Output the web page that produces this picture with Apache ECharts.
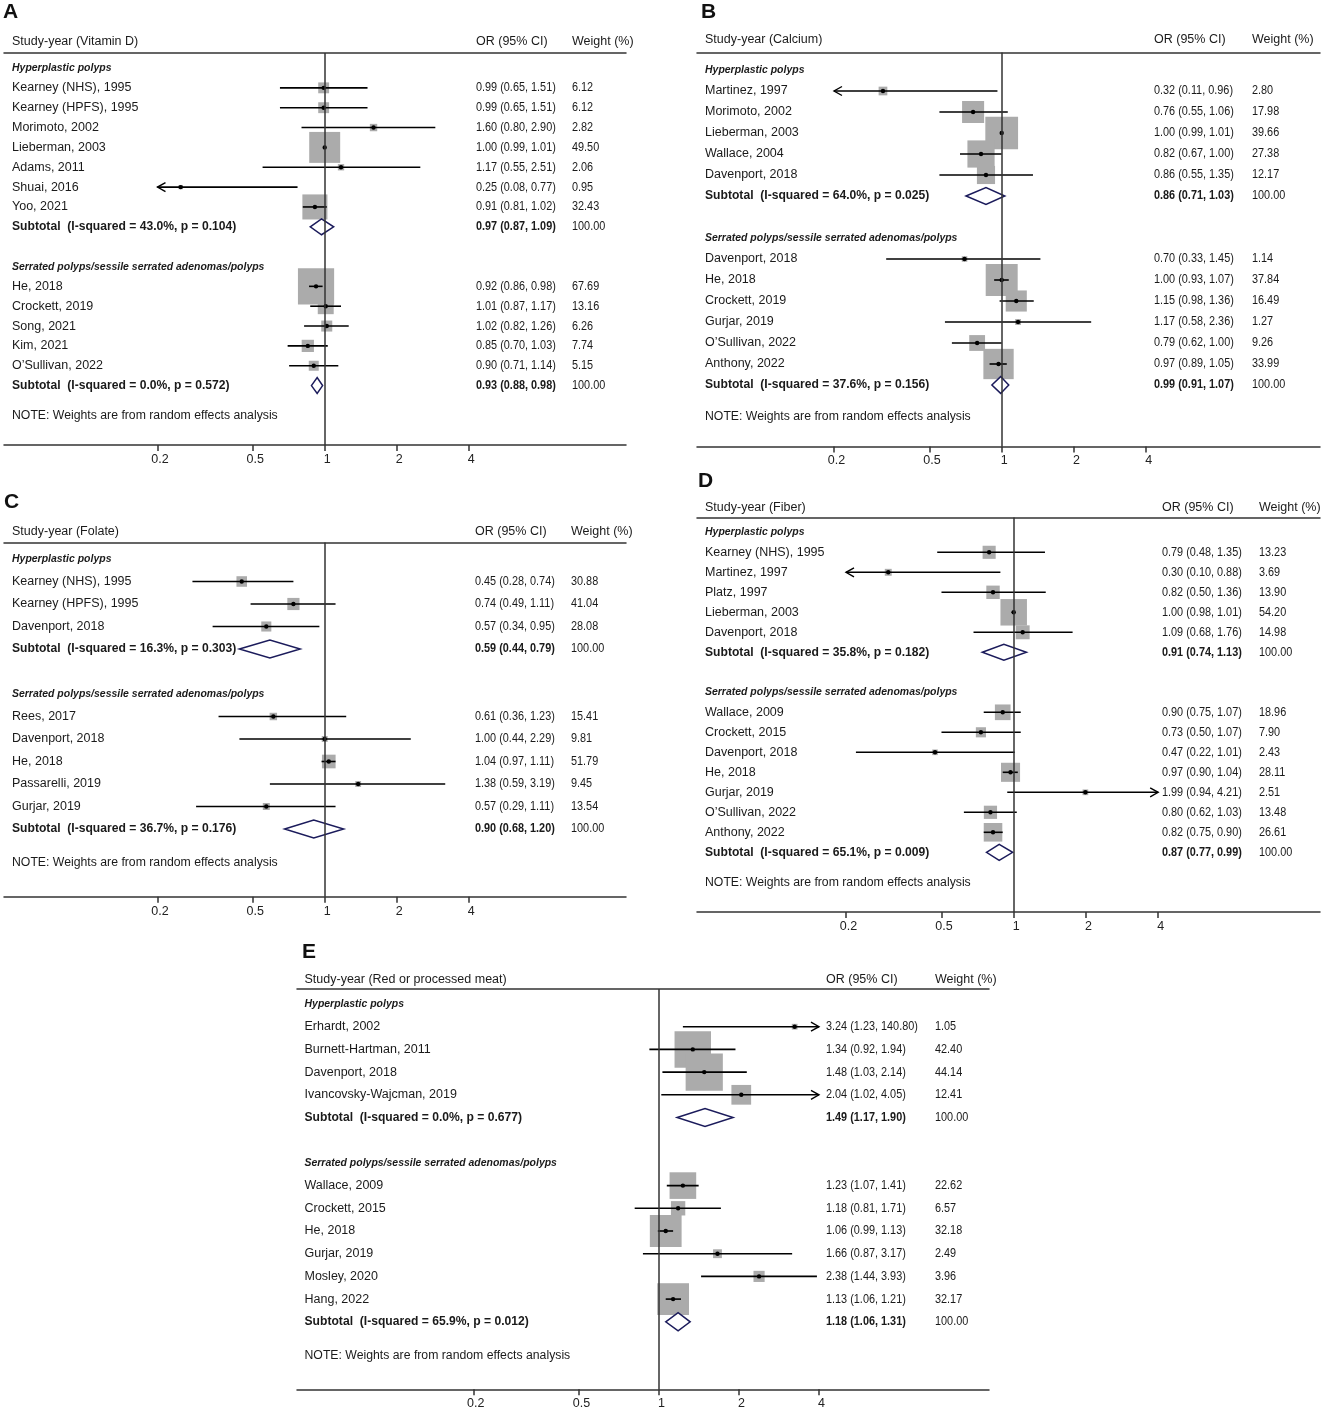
<!DOCTYPE html>
<html>
<head>
<meta charset="utf-8">
<script src="https://cdn.jsdelivr.net/npm/echarts@6/dist/echarts.min.js"></script>
<style>
  html, body { margin: 0; padding: 0; background: #fff; }
  #chart { width: 1325px; height: 1411px; }
</style>
</head>
<body>
<div id="chart"></div>
<script>
// rows: [study, OR, lower, upper, weight %]
// subtotals: [OR, lower, upper, I-squared %, p]
const vitDHyper = [
  ['Kearney (NHS), 1995', 0.99, 0.65, 1.51, 6.12],
  ['Kearney (HPFS), 1995', 0.99, 0.65, 1.51, 6.12],
  ['Morimoto, 2002', 1.60, 0.80, 2.90, 2.82],
  ['Lieberman, 2003', 1.00, 0.99, 1.01, 49.50],
  ['Adams, 2011', 1.17, 0.55, 2.51, 2.06],
  ['Shuai, 2016', 0.25, 0.08, 0.77, 0.95],
  ['Yoo, 2021', 0.91, 0.81, 1.02, 32.43]
];
const vitDHyperSub = [0.97, 0.87, 1.09, 43.0, 0.104];
const vitDSerr = [
  ['He, 2018', 0.92, 0.86, 0.98, 67.69],
  ['Crockett, 2019', 1.01, 0.87, 1.17, 13.16],
  ['Song, 2021', 1.02, 0.82, 1.26, 6.26],
  ['Kim, 2021', 0.85, 0.70, 1.03, 7.74],
  ['O’Sullivan, 2022', 0.90, 0.71, 1.14, 5.15]
];
const vitDSerrSub = [0.93, 0.88, 0.98, 0.0, 0.572];

const calcHyper = [
  ['Martinez, 1997', 0.32, 0.11, 0.96, 2.80],
  ['Morimoto, 2002', 0.76, 0.55, 1.06, 17.98],
  ['Lieberman, 2003', 1.00, 0.99, 1.01, 39.66],
  ['Wallace, 2004', 0.82, 0.67, 1.00, 27.38],
  ['Davenport, 2018', 0.86, 0.55, 1.35, 12.17]
];
const calcHyperSub = [0.86, 0.71, 1.03, 64.0, 0.025];
const calcSerr = [
  ['Davenport, 2018', 0.70, 0.33, 1.45, 1.14],
  ['He, 2018', 1.00, 0.93, 1.07, 37.84],
  ['Crockett, 2019', 1.15, 0.98, 1.36, 16.49],
  ['Gurjar, 2019', 1.17, 0.58, 2.36, 1.27],
  ['O’Sullivan, 2022', 0.79, 0.62, 1.00, 9.26],
  ['Anthony, 2022', 0.97, 0.89, 1.05, 33.99]
];
const calcSerrSub = [0.99, 0.91, 1.07, 37.6, 0.156];

const folHyper = [
  ['Kearney (NHS), 1995', 0.45, 0.28, 0.74, 30.88],
  ['Kearney (HPFS), 1995', 0.74, 0.49, 1.11, 41.04],
  ['Davenport, 2018', 0.57, 0.34, 0.95, 28.08]
];
const folHyperSub = [0.59, 0.44, 0.79, 16.3, 0.303];
const folSerr = [
  ['Rees, 2017', 0.61, 0.36, 1.23, 15.41],
  ['Davenport, 2018', 1.00, 0.44, 2.29, 9.81],
  ['He, 2018', 1.04, 0.97, 1.11, 51.79],
  ['Passarelli, 2019', 1.38, 0.59, 3.19, 9.45],
  ['Gurjar, 2019', 0.57, 0.29, 1.11, 13.54]
];
const folSerrSub = [0.90, 0.68, 1.20, 36.7, 0.176];

const fibHyper = [
  ['Kearney (NHS), 1995', 0.79, 0.48, 1.35, 13.23],
  ['Martinez, 1997', 0.30, 0.10, 0.88, 3.69],
  ['Platz, 1997', 0.82, 0.50, 1.36, 13.90],
  ['Lieberman, 2003', 1.00, 0.98, 1.01, 54.20],
  ['Davenport, 2018', 1.09, 0.68, 1.76, 14.98]
];
const fibHyperSub = [0.91, 0.74, 1.13, 35.8, 0.182];
const fibSerr = [
  ['Wallace, 2009', 0.90, 0.75, 1.07, 18.96],
  ['Crockett, 2015', 0.73, 0.50, 1.07, 7.90],
  ['Davenport, 2018', 0.47, 0.22, 1.01, 2.43],
  ['He, 2018', 0.97, 0.90, 1.04, 28.11],
  ['Gurjar, 2019', 1.99, 0.94, 4.21, 2.51],
  ['O’Sullivan, 2022', 0.80, 0.62, 1.03, 13.48],
  ['Anthony, 2022', 0.82, 0.75, 0.90, 26.61]
];
const fibSerrSub = [0.87, 0.77, 0.99, 65.1, 0.009];

const meatHyper = [
  ['Erhardt, 2002', 3.24, 1.23, 140.80, 1.05],
  ['Burnett-Hartman, 2011', 1.34, 0.92, 1.94, 42.40],
  ['Davenport, 2018', 1.48, 1.03, 2.14, 44.14],
  ['Ivancovsky-Wajcman, 2019', 2.04, 1.02, 4.05, 12.41]
];
const meatHyperSub = [1.49, 1.17, 1.90, 0.0, 0.677];
const meatSerr = [
  ['Wallace, 2009', 1.23, 1.07, 1.41, 22.62],
  ['Crockett, 2015', 1.18, 0.81, 1.71, 6.57],
  ['He, 2018', 1.06, 0.99, 1.13, 32.18],
  ['Gurjar, 2019', 1.66, 0.87, 3.17, 2.49],
  ['Mosley, 2020', 2.38, 1.44, 3.93, 3.96],
  ['Hang, 2022', 1.13, 1.06, 1.21, 32.17]
];
const meatSerrSub = [1.18, 1.06, 1.31, 65.9, 0.012];

const tickLabels = [0.2, 0.5, 1, 2, 4];
const clipRange = [0.2, 4];

const FONT = '"Liberation Sans", Arial, Helvetica, sans-serif';
const ln = Math.log;
const lnTicks = tickLabels.map(ln);

const panels = [
  { key: 'A', exposure: 'Vitamin D', hyper: vitDHyper, hyperSub: vitDHyperSub, serr: vitDSerr, serrSub: vitDSerrSub,
    left: 4, right: 626, one: 324.7, k: 103.9, top: 53, axisY: 445, row0: 68, step: 19.85, headY: 41.7,
    nameX: 12, orX: 476, wX: 572, box: 4.4, letterX: 3, letterY: 2 },
  { key: 'B', exposure: 'Calcium', hyper: calcHyper, hyperSub: calcHyperSub, serr: calcSerr, serrSub: calcSerrSub,
    left: 697, right: 1320, one: 1001.7, k: 104.2, top: 52.5, axisY: 446.5, row0: 70, step: 21, headY: 39.5,
    nameX: 705, orX: 1154, wX: 1252, box: 5.2, letterX: 701, letterY: 2 },
  { key: 'C', exposure: 'Folate', hyper: folHyper, hyperSub: folHyperSub, serr: folSerr, serrSub: folSerrSub,
    left: 4, right: 626, one: 324.7, k: 103.9, top: 542.5, axisY: 896.7, row0: 559, step: 22.5, headY: 531.7,
    nameX: 12, orX: 475, wX: 571, box: 1.9, letterX: 4, letterY: 492 },
  { key: 'D', exposure: 'Fiber', hyper: fibHyper, hyperSub: fibHyperSub, serr: fibSerr, serrSub: fibSerrSub,
    left: 697, right: 1320, one: 1013.7, k: 104.2, top: 517.5, axisY: 912, row0: 532.3, step: 20, headY: 507.3,
    nameX: 705, orX: 1162, wX: 1259, box: 3.6, letterX: 698, letterY: 471 },
  { key: 'E', exposure: 'Red or processed meat', hyper: meatHyper, hyperSub: meatHyperSub, serr: meatSerr, serrSub: meatSerrSub,
    left: 297, right: 989, one: 659, k: 115.4, top: 989, axisY: 1389.3, row0: 1004, step: 22.7, headY: 979.3,
    nameX: 304.5, orX: 826, wX: 935, box: 5.6, letterX: 302, letterY: 942 }
];

function buildRows(p) {
  const rows = [];
  const n1 = p.hyper.length, n2 = p.serr.length;
  rows.push({ kind: 'head', row: (p.headY - p.row0) / p.step });
  rows.push({ kind: 'group', row: 0, text: 'Hyperplastic polyps' });
  p.hyper.forEach((d, i) => rows.push({ kind: 'study', row: i + 1, d: d }));
  rows.push({ kind: 'sub', row: n1 + 1, d: p.hyperSub });
  rows.push({ kind: 'group', row: n1 + 3, text: 'Serrated polyps/sessile serrated adenomas/polyps' });
  p.serr.forEach((d, i) => rows.push({ kind: 'study', row: n1 + 4 + i, d: d }));
  rows.push({ kind: 'sub', row: n1 + 4 + n2, d: p.serrSub });
  rows.push({ kind: 'note', row: n1 + 5.5 + n2 });
  return rows;
}

// text anchored at its left-middle point; sx squeezes it horizontally
function txt(text, x, y, opt) {
  opt = opt || {};
  return {
    type: 'text',
    x: x, y: y,
    scaleX: opt.sx || 1, scaleY: 1, originX: 0, originY: 0,
    style: {
      text: text, x: 0, y: 0,
      fill: '#1a1a1a',
      fontSize: opt.size || 12.5,
      fontWeight: opt.bold ? 'bold' : 'normal',
      fontStyle: opt.italic ? 'italic' : 'normal',
      fontFamily: FONT,
      textAlign: 'left', textVerticalAlign: 'middle'
    }
  };
}

const NUM_SX = 0.87;

function makeRender(p, rows) {
  const cMin = ln(clipRange[0]), cMax = ln(clipRange[1]);
  return function (params, api) {
    const r = rows[params.dataIndex];
    const y = api.coord([0, r.row])[1];
    const kids = [];
    if (r.kind === 'head') {
      kids.push(txt('Study-year (' + p.exposure + ')', p.nameX, y));
      kids.push(txt('OR (95% CI)', p.orX, y));
      kids.push(txt('Weight (%)', p.wX, y));
    } else if (r.kind === 'group') {
      kids.push(txt(r.text, p.nameX, y, { bold: true, italic: true, size: 11.5, sx: 0.91 }));
    } else if (r.kind === 'note') {
      kids.push(txt('NOTE: Weights are from random effects analysis', p.nameX, y, { sx: 0.98 }));
    } else if (r.kind === 'study') {
      const d = r.d;
      const xo = api.coord([api.value(0), r.row])[0];
      const lo = api.value(1), hi = api.value(2);
      const xl = api.coord([Math.max(lo, cMin), r.row])[0];
      const xh = api.coord([Math.min(hi, cMax), r.row])[0];
      const side = p.box * Math.sqrt(d[4]);
      kids.push({ type: 'rect', shape: { x: xo - side / 2, y: y - side / 2, width: side, height: side },
        style: { fill: '#ababab' } });
      kids.push({ type: 'line', shape: { x1: xl, y1: y, x2: xh, y2: y },
        style: { stroke: '#000', lineWidth: 1.6 } });
      if (lo < cMin) {
        kids.push({ type: 'polyline', shape: { points: [[xl + 8, y - 4.5], [xl, y], [xl + 8, y + 4.5]] },
          style: { stroke: '#000', lineWidth: 1.4, fill: null } });
      }
      if (hi > cMax) {
        kids.push({ type: 'polyline', shape: { points: [[xh - 8, y - 4.5], [xh, y], [xh - 8, y + 4.5]] },
          style: { stroke: '#000', lineWidth: 1.4, fill: null } });
      }
      kids.push({ type: 'circle', shape: { cx: xo, cy: y, r: 2.2 }, style: { fill: '#000' } });
      kids.push(txt(d[0], p.nameX, y));
      kids.push(txt(d[1].toFixed(2) + ' (' + d[2].toFixed(2) + ', ' + d[3].toFixed(2) + ')', p.orX, y, { sx: NUM_SX }));
      kids.push(txt(d[4].toFixed(2), p.wX, y, { sx: NUM_SX }));
    } else if (r.kind === 'sub') {
      const d = r.d;
      const xo = api.coord([api.value(0), r.row])[0];
      const xl = api.coord([api.value(1), r.row])[0];
      const xh = api.coord([api.value(2), r.row])[0];
      const h = api.size([0, 1])[1] * 0.8;
      kids.push({ type: 'polygon', shape: { points: [[xl, y], [xo, y - h / 2], [xh, y], [xo, y + h / 2]] },
        style: { fill: '#fff', stroke: '#1b1b5b', lineWidth: 1.5 } });
      kids.push(txt('Subtotal  (I-squared = ' + d[3].toFixed(1) + '%, p = ' + d[4].toFixed(3) + ')', p.nameX, y,
        { bold: true, sx: 0.97 }));
      kids.push(txt(d[0].toFixed(2) + ' (' + d[1].toFixed(2) + ', ' + d[2].toFixed(2) + ')', p.orX, y,
        { bold: true, sx: NUM_SX }));
      kids.push(txt('100.00', p.wX, y, { sx: NUM_SX }));
    }
    return { type: 'group', children: kids };
  };
}

const grids = [], xAxes = [], yAxes = [], series = [], titles = [];
panels.forEach((p, i) => {
  const rows = buildRows(p);
  grids.push({ left: p.left, top: p.top, width: p.right - p.left, height: p.axisY - p.top, containLabel: false });
  const xMin = (p.left - p.one) / p.k, xMax = (p.right - p.one) / p.k;
  xAxes.push({
    gridIndex: i, type: 'value', min: xMin, max: xMax, position: 'bottom',
    axisLine: { show: true, onZero: false, lineStyle: { color: '#333', width: 1.5 } },
    axisTick: { show: true, customValues: lnTicks, length: 6, lineStyle: { color: '#333', width: 1.5 } },
    axisLabel: { show: true, customValues: lnTicks, margin: 8, color: '#222', fontSize: 12.5, fontFamily: FONT,
      padding: [0, 0, 0, 5],
      formatter: v => String(+Math.exp(v).toFixed(1)) },
    splitLine: { show: false }
  });
  xAxes.push({
    gridIndex: i, type: 'value', min: xMin, max: xMax, position: 'top',
    axisLine: { show: true, onZero: false, lineStyle: { color: '#333', width: 1.5 } },
    axisTick: { show: false }, axisLabel: { show: false }, splitLine: { show: false }
  });
  yAxes.push({
    gridIndex: i, type: 'value', inverse: true, show: false,
    min: (p.top - p.row0) / p.step, max: (p.axisY - p.row0) / p.step
  });
  titles.push({ text: p.key, left: p.letterX, top: p.letterY, padding: 0,
    textStyle: { fontSize: 21, fontWeight: 'bold', color: '#111', fontFamily: FONT } });
  series.push({
    type: 'custom', xAxisIndex: i * 2, yAxisIndex: i, clip: false, silent: true,
    renderItem: makeRender(p, rows),
    data: rows.map(r => {
      if (r.kind === 'study' || r.kind === 'sub') {
        const d = r.d;
        const v = r.kind === 'study' ? [d[1], d[2], d[3]] : [d[0], d[1], d[2]];
        return [ln(v[0]), ln(v[1]), ln(v[2]), r.row];
      }
      return [0, 0, 0, r.row];
    }),
    encode: { x: 0, y: 3 },
    markLine: { silent: true, symbol: 'none', label: { show: false },
      lineStyle: { color: '#333', width: 1.5, type: 'solid' }, data: [{ xAxis: 0 }] }
  });
});

const chart = echarts.init(document.getElementById('chart'), null, { renderer: 'canvas' });
chart.setOption({
  animation: false,
  backgroundColor: '#fff',
  title: titles,
  grid: grids,
  xAxis: xAxes,
  yAxis: yAxes,
  series: series
});
</script>
</body>
</html>
